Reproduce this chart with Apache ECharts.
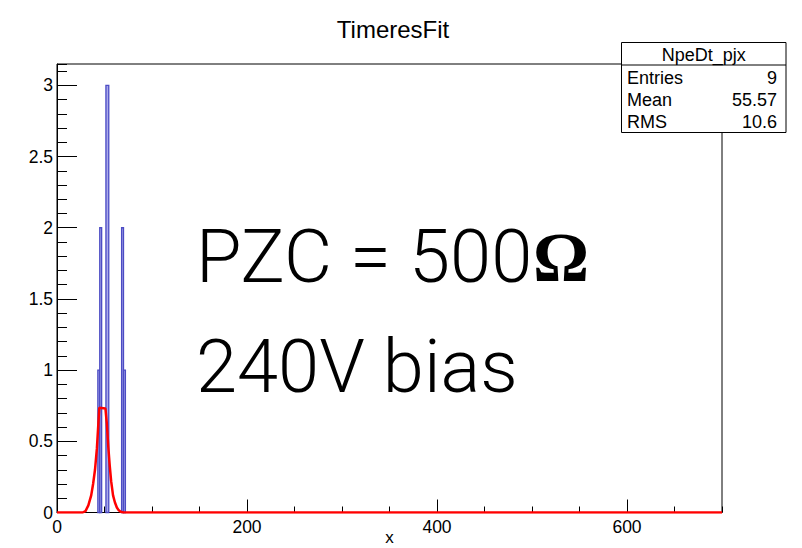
<!DOCTYPE html>
<html>
<head>
<meta charset="utf-8">
<script src="https://cdn.jsdelivr.net/npm/echarts@6/dist/echarts.min.js"></script>
<style>
html,body{margin:0;padding:0;background:#fff;}
#chart{width:802px;height:548px;}
</style>
</head>
<body>
<div id="chart"></div>
<script>
// ---- data ----
const chartTitle = 'TimeresFit';
const xAxisName = 'x';
// histogram bins (low edge, high edge, count)
const binLow  = [43, 45, 51.5, 68, 70];
const binHigh = [45, 47, 54.5, 70, 72];
const binCount = [1, 2, 3, 2, 1];
// fitted curve (red)
const fitX = [0, 27, 30, 33, 36, 38, 40, 42, 43.5, 44.5, 51, 52.5, 54, 55.5, 57, 59, 61, 63, 65, 67, 70, 700];
const fitY = [0, 0, 0.01, 0.05, 0.12, 0.2, 0.3, 0.45, 0.62, 0.735, 0.73, 0.62, 0.46, 0.33, 0.22, 0.12, 0.07, 0.035, 0.015, 0.005, 0, 0];
// stats box
const statName = 'NpeDt_pjx';
const statLabels = ['Entries', 'Mean', 'RMS'];
const statValues = ['9', '55.57', '10.6'];
// annotation
const noteLine1 = 'PZC = 500';
const noteOmega = 'Ω';
const noteLine2 = '240V bias';
// axis ranges
const xMin = 0, xMax = 700, yMin = 0, yMax = 3.15;

const histData = binLow.map((lo, i) => [lo, binHigh[i], binCount[i]]);
const fitData = fitX.map((x, i) => [x, fitY[i]]);

const chart = echarts.init(document.getElementById('chart'), null, {renderer: 'svg'});
const FONT = 'Liberation Sans, Arial, Helvetica, sans-serif';
const BIGFONT = 'Roboto, Liberation Sans, Arial, sans-serif';

const option = {
  backgroundColor: '#fff',
  animation: false,
  title: {
    text: chartTitle,
    left: 388,
    top: 12,
    textAlign: 'center',
    textStyle: {fontFamily: FONT, fontSize: 24, fontWeight: 'normal', color: '#000'}
  },
  grid: {
    left: 57, right: 80, top: 64, bottom: 35.5,
    containLabel: false,
    outerBoundsMode: 'none',
    show: true, borderColor: '#000', borderWidth: 1, backgroundColor: 'transparent'
  },
  xAxis: [
    {
      type: 'value', min: xMin, max: xMax, interval: 200,
      name: xAxisName, nameLocation: 'middle', nameGap: 16, nameMoveOverlap: false,
      nameTextStyle: {fontFamily: FONT, fontSize: 17, color: '#000', lineHeight: 17},
      axisLine: {show: true, onZero: false, lineStyle: {color: '#000', width: 1}},
      axisTick: {show: true, inside: true, length: 13, lineStyle: {color: '#000'}},
      minorTick: {show: false},
      splitLine: {show: false},
      axisLabel: {show: true, showMaxLabel: false, margin: 5, fontFamily: FONT, fontSize: 17.5, color: '#000'}
    },
    {
      type: 'value', min: xMin, max: xMax, interval: 50, position: 'bottom',
      axisLine: {show: false},
      axisTick: {show: true, inside: true, length: 6, lineStyle: {color: '#000'}},
      splitLine: {show: false},
      axisLabel: {show: false}
    }
  ],
  yAxis: [
    {
      type: 'value', min: yMin, max: yMax, interval: 0.5,
      axisLine: {show: true, onZero: false, lineStyle: {color: '#000', width: 1}},
      axisTick: {show: true, inside: true, length: 20, lineStyle: {color: '#000'}},
      splitLine: {show: false},
      axisLabel: {show: true, showMaxLabel: false, margin: 4, fontFamily: FONT, fontSize: 17.5, color: '#000'}
    },
    {
      type: 'value', min: yMin, max: yMax, interval: 0.1, position: 'left',
      axisLine: {show: false},
      axisTick: {show: true, inside: true, length: 10, lineStyle: {color: '#000'}},
      splitLine: {show: false},
      axisLabel: {show: false}
    }
  ],
  series: [
    {
      type: 'custom',
      xAxisIndex: 0, yAxisIndex: 0,
      data: histData,
      encode: {x: [0, 1], y: 2},
      z: 3,
      renderItem: function (params, api) {
        const p0 = api.coord([api.value(0), api.value(2)]);
        const p1 = api.coord([api.value(1), 0]);
        return {
          type: 'rect',
          shape: {x: p0[0], y: p0[1], width: p1[0] - p0[0], height: p1[1] - p0[1]},
          style: {fill: 'rgba(160,160,232,0.9)', stroke: '#4c4cc4', lineWidth: 1.3}
        };
      }
    },
    {
      type: 'line',
      xAxisIndex: 0, yAxisIndex: 0,
      data: fitData,
      showSymbol: false,
      symbol: 'none',
      z: 4,
      lineStyle: {color: '#ff0000', width: 2.5},
      silent: true
    }
  ],
  graphic: [
    {
      type: 'group',
      z: 100,
      children: [
        {type: 'rect', shape: {x: 621.5, y: 42.5, width: 164.5, height: 90}, style: {fill: '#fff', stroke: '#000', lineWidth: 1}},
        {type: 'line', shape: {x1: 621.5, y1: 65, x2: 786, y2: 65}, style: {stroke: '#000', lineWidth: 1}},
        {type: 'text', x: 703.8, y: 55, style: {text: statName, fill: '#000', font: '18px ' + FONT, textAlign: 'center', textVerticalAlign: 'middle'}},
        ...statLabels.map((lab, i) => ({type: 'text', x: 627, y: 78 + i * 22, style: {text: lab, fill: '#000', font: '18px ' + FONT, textAlign: 'left', textVerticalAlign: 'middle'}})),
        ...statValues.map((v, i) => ({type: 'text', x: 777, y: 78 + i * 22, style: {text: v, fill: '#000', font: '18px ' + FONT, textAlign: 'right', textVerticalAlign: 'middle'}}))
      ]
    },
    {
      type: 'text', z: 100, x: 196, y: 256,
      style: {text: noteLine1, fill: '#000', font: '300 74px ' + BIGFONT, textVerticalAlign: 'middle'}
    },
    {
      type: 'text', z: 100, x: 533, y: 257,
      style: {text: noteOmega, fill: '#000', font: 'bold 70px Liberation Serif, Times New Roman, serif', textVerticalAlign: 'middle'}
    },
    {
      type: 'text', z: 100, x: 196, y: 366,
      style: {text: noteLine2, fill: '#000', font: '300 74px ' + BIGFONT, textVerticalAlign: 'middle'}
    }
  ]
};
chart.setOption(option);
</script>
</body>
</html>
